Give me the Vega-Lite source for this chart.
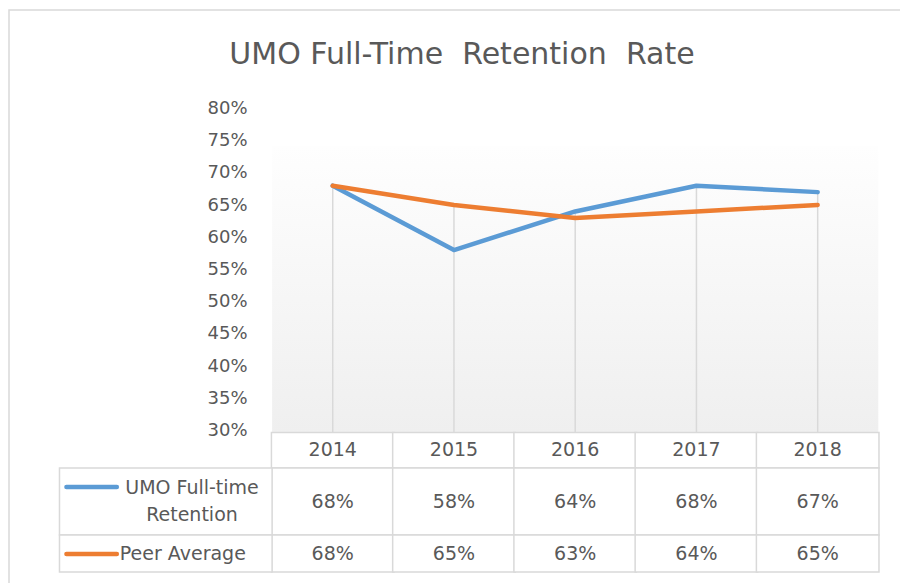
{
  "$schema": "https://vega.github.io/schema/vega-lite/v6.json",
  "width": 900,
  "height": 580,
  "autosize": {"type": "none"},
  "padding": {"left": 9, "top": 10, "right": 0, "bottom": 0},
  "background": "white",
  "config": {
    "view": {"stroke": "#d9d9d9", "strokeWidth": 1.5},
    "font": "DejaVu Sans",
    "axis": {"grid": false, "domain": false, "ticks": false},
    "axisX": {"disable": true}
  },
  "title": {
    "text": "UMO Full-Time\u00a0 Retention\u00a0 Rate",
    "fontSize": 30,
    "font": "DejaVu Sans",
    "fontWeight": "normal",
    "color": "#595959",
    "anchor": "middle",
    "baseline": "middle",
    "offset": -75,
    "dx": 3
  },
  "data": {
    "values": [
      {"year": 2014, "series": "UMO Full-time Retention", "value": 0.68},
      {"year": 2015, "series": "UMO Full-time Retention", "value": 0.58},
      {"year": 2016, "series": "UMO Full-time Retention", "value": 0.64},
      {"year": 2017, "series": "UMO Full-time Retention", "value": 0.68},
      {"year": 2018, "series": "UMO Full-time Retention", "value": 0.67},
      {"year": 2014, "series": "Peer Average", "value": 0.68},
      {"year": 2015, "series": "Peer Average", "value": 0.65},
      {"year": 2016, "series": "Peer Average", "value": 0.63},
      {"year": 2017, "series": "Peer Average", "value": 0.64},
      {"year": 2018, "series": "Peer Average", "value": 0.65}
    ]
  },
  "layer": [
    {
      "data": {"values": [{}]},
      "mark": {
        "type": "rect",
        "color": {
          "gradient": "linear",
          "x1": 0, "y1": 0, "x2": 0, "y2": 1,
          "stops": [
            {"offset": 0, "color": "#fefefe"},
            {"offset": 1, "color": "#efefef"}
          ]
        }
      },
      "encoding": {
        "x": {"datum": 2013.5, "type": "quantitative", "scale": {"domain": [2011.3711, 2018.712], "nice": false, "zero": false}},
        "x2": {"datum": 2018.5},
        "y": {"datum": 0.7416, "type": "quantitative", "title": null, "scale": {"domain": [0.0522, 0.9528], "nice": false, "zero": false}},
        "y2": {"datum": 0.2969}
      }
    },
    {
      "mark": {"type": "rule", "color": "#d9d9d9", "strokeWidth": 1.5},
      "encoding": {
        "x": {"field": "year", "type": "quantitative", "title": null},
        "y": {"aggregate": "max", "field": "value", "type": "quantitative", "title": null},
        "y2": {"datum": 0.2969}
      }
    },
    {
      "transform": [{"filter": "datum.series == 'Peer Average'"}],
      "mark": {"type": "bar", "width": 122.6, "fill": "white", "stroke": "#d9d9d9", "strokeWidth": 1.5},
      "encoding": {
        "x": {"field": "year", "type": "quantitative", "title": null},
        "y": {"datum": 0.2969, "type": "quantitative", "title": null},
        "y2": {"datum": 0.2416}
      }
    },
    {
      "transform": [{"filter": "datum.series == 'Peer Average'"}],
      "mark": {"type": "bar", "width": 122.6, "fill": "white", "stroke": "#d9d9d9", "strokeWidth": 1.5},
      "encoding": {
        "x": {"field": "year", "type": "quantitative", "title": null},
        "y": {"datum": 0.2416, "type": "quantitative", "title": null},
        "y2": {"datum": 0.1376}
      }
    },
    {
      "transform": [{"filter": "datum.series == 'Peer Average'"}],
      "mark": {"type": "bar", "width": 122.6, "fill": "white", "stroke": "#d9d9d9", "strokeWidth": 1.5},
      "encoding": {
        "x": {"field": "year", "type": "quantitative", "title": null},
        "y": {"datum": 0.1376, "type": "quantitative", "title": null},
        "y2": {"datum": 0.0801}
      }
    },
    {
      "data": {"values": [{}]},
      "mark": {"type": "rect", "fill": "white", "stroke": "#d9d9d9", "strokeWidth": 1.5},
      "encoding": {
        "x": {"datum": 2011.7463, "type": "quantitative"},
        "x2": {"datum": 2013.5},
        "y": {"datum": 0.2416, "type": "quantitative", "title": null},
        "y2": {"datum": 0.1376}
      }
    },
    {
      "data": {"values": [{}]},
      "mark": {"type": "rect", "fill": "white", "stroke": "#d9d9d9", "strokeWidth": 1.5},
      "encoding": {
        "x": {"datum": 2011.7463, "type": "quantitative"},
        "x2": {"datum": 2013.5},
        "y": {"datum": 0.1376, "type": "quantitative", "title": null},
        "y2": {"datum": 0.0801}
      }
    },
    {
      "mark": {"type": "line", "strokeWidth": 4.5, "strokeCap": "round", "strokeJoin": "round"},
      "encoding": {
        "x": {"field": "year", "type": "quantitative", "title": null},
        "y": {
          "field": "value",
          "type": "quantitative",
          "title": null,
          "axis": {
            "values": [0.3, 0.35, 0.4, 0.45, 0.5, 0.55, 0.6, 0.65, 0.7, 0.75, 0.8],
            "format": ".0%",
            "offset": -261,
            "labelPadding": 23,
            "labelFontSize": 18,
            "labelColor": "#595959",
            "labelFont": "DejaVu Sans",
            "labelFlush": false,
            "title": null
          }
        },
        "color": {
          "field": "series",
          "type": "nominal",
          "scale": {"domain": ["UMO Full-time Retention", "Peer Average"], "range": ["#5B9BD5", "#ED7D31"]},
          "legend": null
        }
      }
    },
    {
      "transform": [{"filter": "datum.series == 'Peer Average'"}],
      "mark": {"type": "text", "fontSize": 19, "color": "#595959", "align": "center", "baseline": "middle"},
      "encoding": {
        "x": {"field": "year", "type": "quantitative", "title": null},
        "y": {"datum": 0.26925, "type": "quantitative", "title": null},
        "text": {"field": "year", "type": "ordinal"}
      }
    },
    {
      "transform": [{"filter": "datum.series == 'UMO Full-time Retention'"}],
      "mark": {"type": "text", "fontSize": 19, "color": "#595959", "align": "center", "baseline": "middle"},
      "encoding": {
        "x": {"field": "year", "type": "quantitative", "title": null},
        "y": {"datum": 0.1896, "type": "quantitative", "title": null},
        "text": {"field": "value", "type": "quantitative", "format": ".0%"}
      }
    },
    {
      "transform": [{"filter": "datum.series == 'Peer Average'"}],
      "mark": {"type": "text", "fontSize": 19, "color": "#595959", "align": "center", "baseline": "middle"},
      "encoding": {
        "x": {"field": "year", "type": "quantitative", "title": null},
        "y": {"datum": 0.10885, "type": "quantitative", "title": null},
        "text": {"field": "value", "type": "quantitative", "format": ".0%"}
      }
    },
    {
      "data": {"values": [{}]},
      "mark": {"type": "text", "text": ["UMO Full-time", "Retention"], "lineHeight": 27, "fontSize": 19, "color": "#595959", "align": "center", "baseline": "middle"},
      "encoding": {
        "x": {"datum": 2012.8393, "type": "quantitative"},
        "y": {"datum": 0.2106, "type": "quantitative", "title": null}
      }
    },
    {
      "data": {"values": [{}]},
      "mark": {"type": "text", "text": "Peer Average", "fontSize": 19, "color": "#595959", "align": "left", "baseline": "middle"},
      "encoding": {
        "x": {"datum": 2012.2439, "type": "quantitative"},
        "y": {"datum": 0.1081, "type": "quantitative", "title": null}
      }
    },
    {
      "data": {"values": [{}]},
      "mark": {"type": "rule", "color": "#5B9BD5", "strokeWidth": 4.5, "strokeCap": "round"},
      "encoding": {
        "x": {"datum": 2011.8034, "type": "quantitative"},
        "x2": {"datum": 2012.2194},
        "y": {"datum": 0.2121, "type": "quantitative", "title": null}
      }
    },
    {
      "data": {"values": [{}]},
      "mark": {"type": "rule", "color": "#ED7D31", "strokeWidth": 4.5, "strokeCap": "round"},
      "encoding": {
        "x": {"datum": 2011.8034, "type": "quantitative"},
        "x2": {"datum": 2012.2194},
        "y": {"datum": 0.1081, "type": "quantitative", "title": null}
      }
    }
  ]
}
